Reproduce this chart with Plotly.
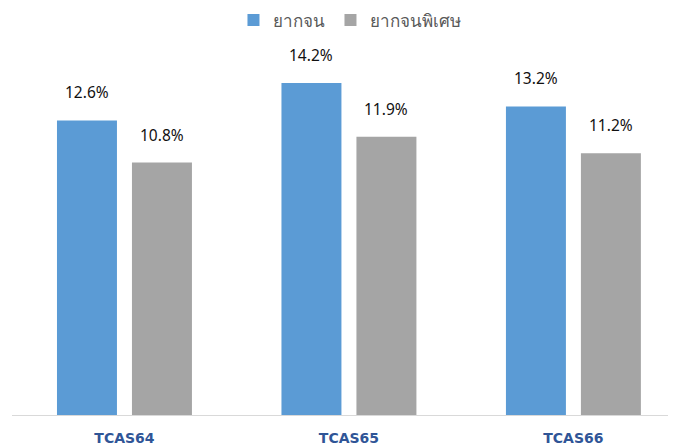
import plotly.graph_objects as go

categories = ["TCAS64", "TCAS65", "TCAS66"]
series_names = ["ยากจน", "ยากจนพิเศษ"]
poor = [12.6, 14.2, 13.2]
extreme_poor = [10.8, 11.9, 11.2]

colors = ["#5B9BD5", "#A5A5A5"]

fig = go.Figure()
for name, vals, col in zip(series_names, [poor, extreme_poor], colors):
    fig.add_trace(go.Bar(x=categories, y=vals, name=name, marker=dict(color=col, line=dict(width=0))))

annotations = []
for vals, shift in [(poor, -37.5), (extreme_poor, 37.5)]:
    for c, v in zip(categories, vals):
        annotations.append(dict(x=c, y=v, xref="x", yref="y", text=f"{v:.1f}%", showarrow=False,
                                xshift=shift, yshift=28, yanchor="middle",
                                font=dict(family="Noto Sans", size=15.5, color="#111111")))

# page body adds an 8px offset; margins compensate
fig.update_layout(
    width=676, height=448,
    margin=dict(l=4, r=8, t=33, b=41, autoexpand=False),
    paper_bgcolor="white", plot_bgcolor="white",
    barmode="group", bargap=0.332, bargroupgap=0.2,
    showlegend=True,
    legend=dict(orientation="h", x=0.509, xanchor="center", yref="container", y=1 - 12.5 / 448, yanchor="middle",
                font=dict(family="Noto Sans", size=17, color="#595959"), itemwidth=30, traceorder="normal"),
    annotations=annotations,
    font=dict(family="Noto Sans"),
)
fig.update_xaxes(type="category", range=[-0.501, 2.457], showline=True, linecolor="#D9D9D9", linewidth=1,
                 showgrid=False, ticks="", ticklabelstandoff=10, automargin=False,
                 tickfont=dict(family="DejaVu Sans", size=14, color="#2F5597", weight="bold"))
fig.update_yaxes(range=[0, 16], showgrid=False, showticklabels=False, zeroline=False, showline=False,
                 automargin=False)

fig.write_html("out.html")
